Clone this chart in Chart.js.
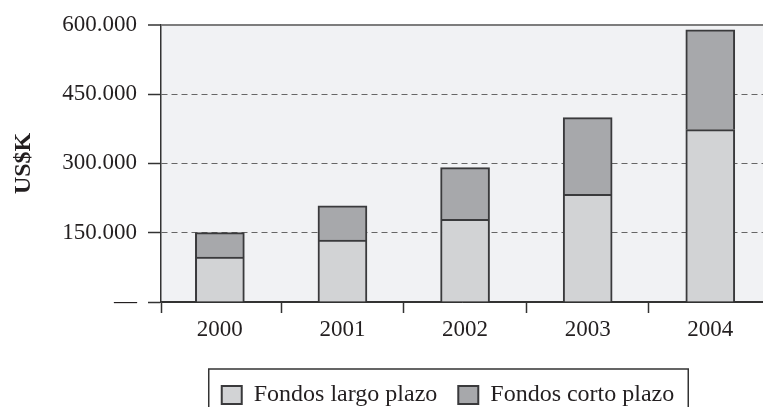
<!DOCTYPE html>
<html>
<head>
<meta charset="utf-8">
<script src="https://cdn.jsdelivr.net/npm/chart.js@4.4.0/dist/chart.umd.min.js"></script>
<style>
  html, body { margin: 0; padding: 0; background: #fff; }
</style>
</head>
<body>
<canvas id="fondosChart" width="763" height="407"></canvas>
<script>
const years = ['2000', '2001', '2002', '2003', '2004'];
const largoPlazo = [97000, 134000, 179000, 233000, 373000];
const cortoPlazo = [53000, 74000, 112000, 166000, 216000];
const yTicks = [0, 150000, 300000, 450000, 600000];
const seriesNames = ['Fondos largo plazo', 'Fondos corto plazo'];

const serif = "'Liberation Serif', 'DejaVu Serif', serif";
const ink = '#231f20';
const edge = '#3a3a3c';
const xMin = -0.48, xMax = 4.43;

// 150000 -> "150.000", 0 -> "—"
function miles(v) {
    if (v === 0) return '—';
    return String(v).replace(/\B(?=(\d{3})+(?!\d))/g, '.');
}

// light grey plot background
const plotBg = {
    id: 'plotBg',
    beforeDraw(chart) {
        const a = chart.chartArea;
        const ctx = chart.ctx;
        ctx.save();
        ctx.fillStyle = '#f1f2f4';
        ctx.fillRect(a.left, a.top, a.right - a.left, a.bottom - a.top);
        ctx.restore();
    }
};

// push the legend row down to the bottom edge and frame it
const legendFrame = {
    id: 'legendFrame',
    afterLayout(chart) {
        const lg = chart.legend;
        const shift = 383 - (lg.top + lg.options.labels.padding);
        lg.top += shift;
        lg.bottom += shift;
        lg.left -= 14;
        lg.right -= 14;
    },
    afterDraw(chart) {
        const boxes = chart.legend.legendHitBoxes;
        if (!boxes || !boxes.length) return;
        const first = boxes[0], last = boxes[boxes.length - 1];
        const left = first.left - 13;
        const right = last.left + last.width + 14;
        const ctx = chart.ctx;
        ctx.save();
        ctx.strokeStyle = '#333';
        ctx.lineWidth = 1.5;
        ctx.strokeRect(left, 369, right - left, 60);
        ctx.restore();
    }
};

const ctx = document.getElementById('fondosChart').getContext('2d');
new Chart(ctx, {
    type: 'bar',
    data: {
        datasets: [
            {
                label: seriesNames[0],
                data: largoPlazo.map((v, i) => ({ x: i, y: v })),
                backgroundColor: '#d2d3d5',
                borderColor: edge,
                borderWidth: 2,
                stack: 'a',
                barThickness: 49
            },
            {
                label: seriesNames[1],
                data: cortoPlazo.map((v, i) => ({ x: i, y: v })),
                backgroundColor: '#a7a8ab',
                borderColor: edge,
                borderWidth: 2,
                stack: 'a',
                barThickness: 49
            }
        ]
    },
    options: {
        responsive: false,
        animation: false,
        devicePixelRatio: 1,
        layout: { padding: { top: 23, right: 0, bottom: 0, left: 0 } },
        plugins: {
            tooltip: { enabled: false },
            legend: {
                position: 'bottom',
                fullSize: false,
                labels: {
                    color: ink,
                    font: { family: serif, size: 24 },
                    boxWidth: 20,
                    boxHeight: 18,
                    padding: 21
                }
            }
        },
        scales: {
            x: {
                type: 'linear',
                min: xMin,
                max: xMax,
                offset: false,
                afterBuildTicks: s => {
                    const t = [{ value: xMin }];
                    years.forEach((_, i) => {
                        if (i > 0) t.push({ value: i - 0.5 });
                        t.push({ value: i });
                    });
                    s.ticks = t;
                },
                afterFit: s => { s.height = 50; },
                ticks: {
                    autoSkip: false,
                    maxRotation: 0,
                    padding: 3,
                    color: ink,
                    font: { family: serif, size: 23 },
                    callback: v => Number.isInteger(v) ? years[v] : ''
                },
                grid: {
                    drawOnChartArea: false,
                    offset: false,
                    tickLength: 11,
                    tickWidth: 1.5,
                    tickColor: c => (c.tick && !Number.isInteger(c.tick.value)) ? '#333' : 'rgba(0,0,0,0)'
                },
                border: { color: '#333', width: 1.5 }
            },
            y: {
                stacked: true,
                min: 0,
                max: 600000,
                afterBuildTicks: s => { s.ticks = yTicks.map(v => ({ value: v })); },
                afterFit: s => { s.width = 161; },
                ticks: {
                    padding: 11,
                    color: ink,
                    font: { family: serif, size: 23 },
                    callback: v => miles(v)
                },
                grid: {
                    color: c => {
                        if (!c.tick) return '#666';
                        if (c.tick.value === 0) return '#333';
                        if (c.tick.value === 600000) return '#7d7d7d';
                        return '#666';
                    },
                    lineWidth: c => (c.tick && c.tick.value === 600000) ? 2 : 1,
                    tickLength: 13,
                    tickWidth: 1.5,
                    tickColor: '#333'
                },
                border: {
                    color: '#333',
                    width: 1.5,
                    dash: c => (c.tick && c.tick.value > 0 && c.tick.value < 600000) ? [6, 4] : []
                },
                title: {
                    display: true,
                    text: 'US$K',
                    color: ink,
                    font: { family: serif, size: 24, weight: 'bold' },
                    padding: { top: 9, bottom: 0 }
                }
            }
        }
    },
    plugins: [plotBg, legendFrame]
});
</script>
</body>
</html>
